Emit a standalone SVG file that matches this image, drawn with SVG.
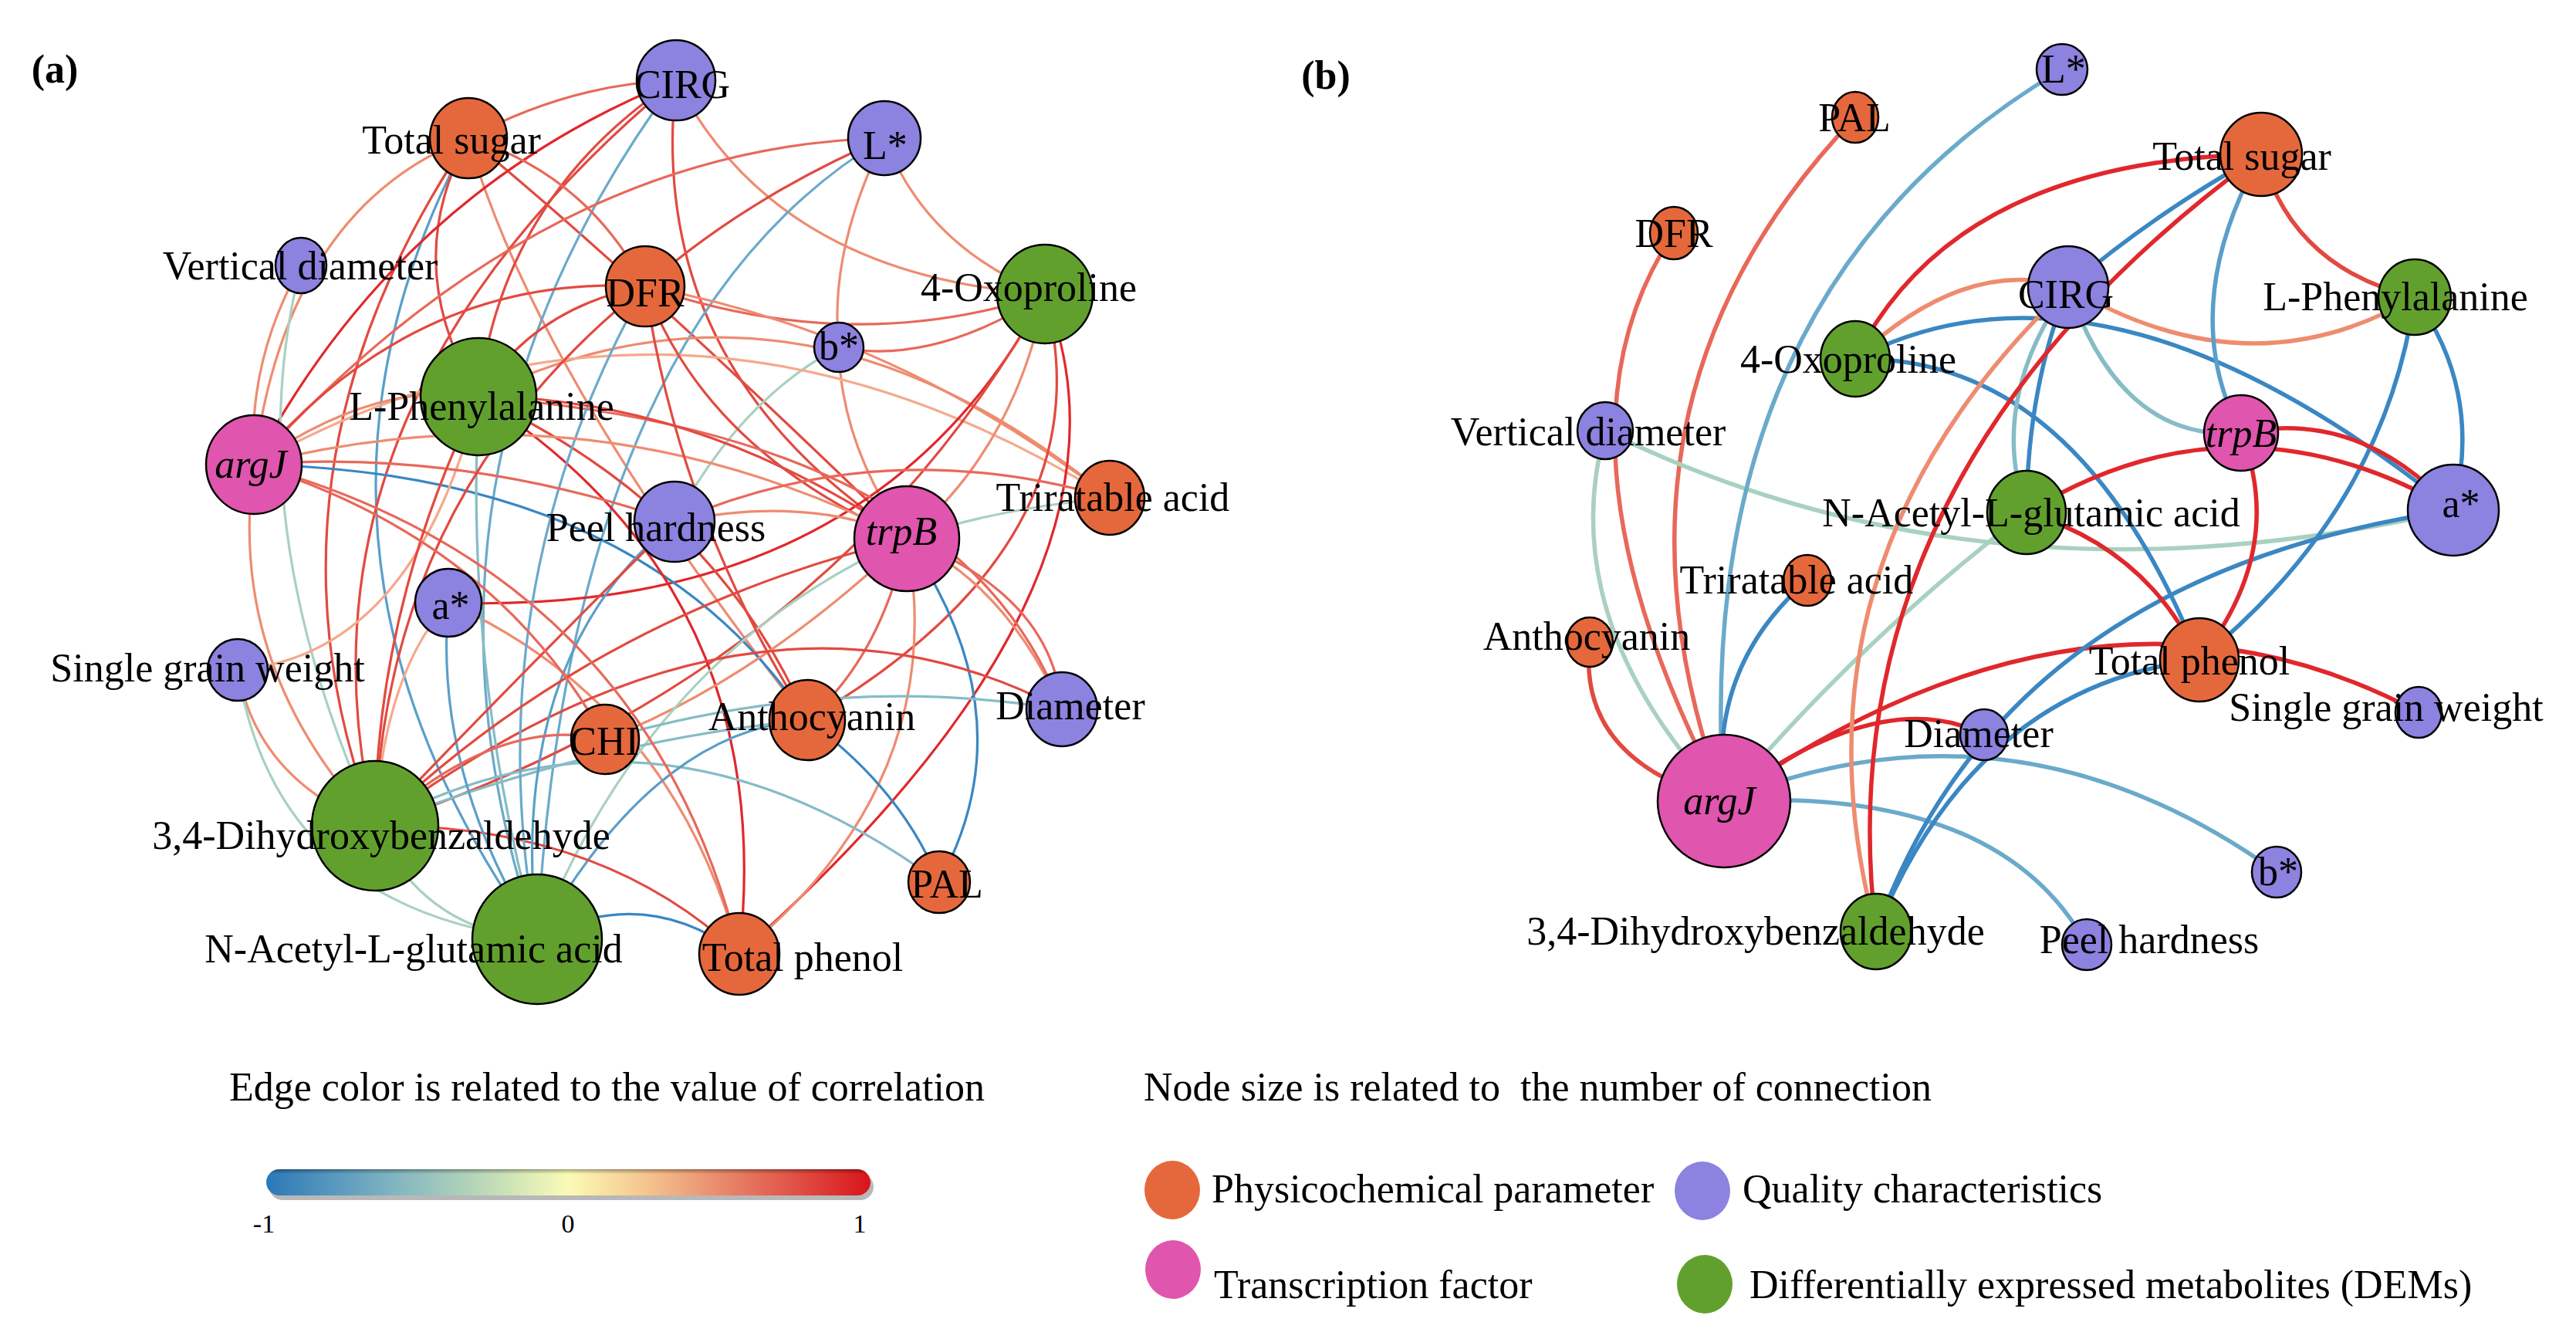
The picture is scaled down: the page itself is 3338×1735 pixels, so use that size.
<svg xmlns="http://www.w3.org/2000/svg" width="3338" height="1735" viewBox="0 0 3338 1735">
<style>
text{font-family:"Liberation Serif","Times New Roman",serif;font-size:52px;fill:#000}
.lab{text-anchor:middle}
.it{font-style:italic}
.bold{font-weight:bold}
.e path{fill:none;stroke-linecap:round}
.ea path{stroke-width:3.2}
.eb path{stroke-width:5.5}
.r1{stroke:#e0282c}.r2{stroke:#e24a40}.r3{stroke:#e8685a}
.s1{stroke:#ee8c70}.s2{stroke:#f4aa8c}
.g1{stroke:#a9d1c0}.t1{stroke:#86bcc6}.t2{stroke:#6aaacb}
.b1{stroke:#3a87c3}.b2{stroke:#5a9fc9}
.n{stroke:#000;stroke-width:2.5}
.o{fill:#e5683c}.p{fill:#8c82df}.k{fill:#e055ae}.g{fill:#62a02e}
.tick{font-size:34px;text-anchor:middle}
</style>
<defs>
<linearGradient id="cb" x1="0" y1="0" x2="1" y2="0">
<stop offset="0" stop-color="#2b78b8"/>
<stop offset="0.2" stop-color="#7cb2c2"/>
<stop offset="0.36" stop-color="#bcd9b8"/>
<stop offset="0.5" stop-color="#fbfbb6"/>
<stop offset="0.63" stop-color="#f5c48e"/>
<stop offset="0.76" stop-color="#e8866a"/>
<stop offset="0.89" stop-color="#df4a40"/>
<stop offset="1" stop-color="#d8141a"/>
</linearGradient>
<linearGradient id="cbv" x1="0" y1="0" x2="0" y2="1">
<stop offset="0" stop-color="#000" stop-opacity="0.35"/>
<stop offset="0.18" stop-color="#000" stop-opacity="0"/>
<stop offset="1" stop-color="#000" stop-opacity="0"/>
</linearGradient>
</defs>
<rect width="3338" height="1735" fill="#fff"/>

<g id="edges-a" class="e ea">
<path class="s1" d="M607 179 Q372 269.5 329 602"/>
<path class="r2" d="M607 179 Q313.5 615.5 486 1070"/>
<path class="b2" d="M607 179 Q328.5 702 696 1217"/>
<path class="r2" d="M607 179 Q516.5 343.5 620 514"/>
<path class="s1" d="M607 179 Q693.5 484 1046 933"/>
<path class="r2" d="M607 179 Q829 361.5 1175 698"/>
<path class="r3" d="M607 179 Q738.5 108.5 876 104"/>
<path class="r1" d="M876 104 Q517.5 247 329 602"/>
<path class="r2" d="M876 104 Q359 533 486 1070"/>
<path class="r2" d="M876 104 Q652 251 620 514"/>
<path class="t2" d="M876 104 Q494 619.5 696 1217"/>
<path class="r2" d="M876 104 Q834.5 479 1175 698"/>
<path class="s1" d="M876 104 Q1005 357.5 1354 381"/>
<path class="r3" d="M1146 179 Q702.5 189.5 329 602"/>
<path class="r2" d="M1146 179 Q969 255 836 371"/>
<path class="t2" d="M1146 179 Q739 422 696 1217"/>
<path class="s1" d="M1146 179 Q1073.5 325.5 1087 450"/>
<path class="s1" d="M1146 179 Q1200 320 1354 381"/>
<path class="r3" d="M836 371 Q1105 464 1354 381"/>
<path class="s1" d="M836 371 Q1163 432 1438 645"/>
<path class="r3" d="M1087 450 Q1209.5 474.5 1354 381"/>
<path class="g1" d="M1087 450 Q959.5 517 874 676"/>
<path class="s1" d="M1087 450 Q1089 576 1175 698"/>
<path class="s1" d="M620 514 Q1031 310.5 1438 645"/>
<path class="s2" d="M329 602 Q876.5 296.5 1438 645"/>
<path class="r2" d="M836 371 Q914.5 585.5 1175 698"/>
<path class="r1" d="M1354 381 Q1132.5 799 581 781"/>
<path class="r2" d="M1354 381 Q1080 874.5 486 1070"/>
<path class="s1" d="M1354 381 Q1315.5 580.5 1175 698"/>
<path class="r2" d="M1354 381 Q1440 703 1046 933"/>
<path class="r1" d="M1354 381 Q1504 751.5 958 1236"/>
<path class="b1" d="M329 602 Q832.5 612.5 1046 933"/>
<path class="r2" d="M620 514 Q927 656.5 1046 933"/>
<path class="r1" d="M620 514 Q1011 765 958 1236"/>
<path class="s1" d="M581 781 Q870.5 911.5 958 1236"/>
<path class="s1" d="M1175 698 Q980.5 882 784 958"/>
<path class="g1" d="M1175 698 Q844.5 842.5 696 1217"/>
<path class="r3" d="M1175 698 Q1139.5 854.5 1046 933"/>
<path class="s1" d="M1175 698 Q1233.5 1013 958 1236"/>
<path class="b1" d="M1175 698 Q1334 929.5 1217 1143"/>
<path class="r3" d="M1175 698 Q1364.5 771.5 1376 919"/>
<path class="s1" d="M874 676 Q1235 602.5 1376 919"/>
<path class="r3" d="M620 514 Q1242 563.5 1376 919"/>
<path class="r2" d="M486 1070 Q969 705.5 1376 919"/>
<path class="t1" d="M784 958 Q1080 871.5 1376 919"/>
<path class="t1" d="M486 1070 Q848.5 873.5 1217 1143"/>
<path class="b1" d="M1046 933 Q1168.5 1022 1217 1143"/>
<path class="b2" d="M696 1217 Q849 945 1046 933"/>
<path class="t1" d="M486 1070 Q774 958.5 1046 933"/>
<path class="r2" d="M486 1070 Q778 1067 958 1236"/>
<path class="b1" d="M696 1217 Q833 1143.5 958 1236"/>
<path class="s1" d="M329 602 Q292.5 864 486 1070"/>
<path class="g1" d="M390 344 Q306 673 486 1070"/>
<path class="s1" d="M390 344 Q320.5 467 329 602"/>
<path class="s1" d="M308 868 Q333 1011 486 1070"/>
<path class="g1" d="M308 868 Q358 1177.5 696 1217"/>
<path class="s2" d="M308 868 Q536 849 620 514"/>
<path class="b2" d="M581 781 Q561.5 1001 696 1217"/>
<path class="s2" d="M581 781 Q496.5 874.5 486 1070"/>
<path class="t1" d="M620 514 Q602 874.5 696 1217"/>
<path class="b2" d="M874 676 Q655 853.5 696 1217"/>
<path class="t2" d="M836 371 Q614 766 696 1217"/>
<path class="r2" d="M486 1070 Q720 827 874 676"/>
<path class="r2" d="M486 1070 Q769.5 796 1175 698"/>
<path class="r3" d="M486 1070 Q645 926 784 958"/>
<path class="g1" d="M486 1070 Q549 1206.5 696 1217"/>
<path class="s1" d="M329 602 Q485.5 492 620 514"/>
<path class="s1" d="M329 602 Q768 490 1175 698"/>
<path class="r2" d="M329 602 Q537.5 353.5 836 371"/>
<path class="r3" d="M329 602 Q836.5 741 958 1236"/>
<path class="r3" d="M329 602 Q598.5 581 874 676"/>
<path class="r2" d="M620 514 Q902.5 514 1175 698"/>
<path class="r2" d="M620 514 Q487 788 486 1070"/>
<path class="r2" d="M836 371 Q499 639.5 486 1070"/>
<path class="r3" d="M607 179 Q758.5 225 836 371"/>
<path class="r2" d="M836 371 Q692 397.5 620 514"/>
<path class="r2" d="M836 371 Q879 668 1046 933"/>
<path class="g1" d="M1175 698 Q1293.5 658.5 1438 645"/>
<path class="r3" d="M874 676 Q1144 559.5 1438 645"/>
<path class="r3" d="M329 602 Q643.5 700 784 958"/>
</g>

<g id="edges-b" class="e eb">
<path class="r3" d="M2404 152 Q2047 525 2234 1038"/>
<path class="r3" d="M2169 302 Q1988.5 570 2234 1038"/>
<path class="g1" d="M2080 558 Q2013 802 2234 1038"/>
<path class="g1" d="M2080 558 Q2570 800 3179 661"/>
<path class="t2" d="M2672 90 Q2187 376 2234 1038"/>
<path class="r2" d="M2060 832 Q2043 985 2234 1038"/>
<path class="b1" d="M2342 752 Q2212 865 2234 1038"/>
<path class="g1" d="M2234 1038 Q2410 829 2626 664"/>
<path class="r1" d="M2234 1038 Q2716 700 3134 923"/>
<path class="r1" d="M2234 1038 Q2437 885 2571 952"/>
<path class="t2" d="M2234 1038 Q2608 886 2950 1130"/>
<path class="t2" d="M2234 1038 Q2591 1019 2704 1224"/>
<path class="b1" d="M2431 1207 Q2595 746 3179 661"/>
<path class="b1" d="M2431 1207 Q2560 889 2850 855"/>
<path class="b1" d="M2850 855 Q3090 660 3129 385"/>
<path class="b1" d="M3129 385 Q3218 507 3179 661"/>
<path class="s1" d="M2680 372 Q2915 511 3129 385"/>
<path class="r1" d="M2404 465 Q2533 207 2930 200"/>
<path class="s1" d="M2404 465 Q2548 331 2680 372"/>
<path class="b1" d="M2404 465 Q2728 297 3179 661"/>
<path class="b1" d="M2404 465 Q2693 460 2850 855"/>
<path class="t1" d="M2680 372 Q2748 573 2904 561"/>
<path class="b1" d="M2680 372 Q2627 502 2626 664"/>
<path class="t1" d="M2680 372 Q2575 520 2626 664"/>
<path class="r1" d="M2904 561 Q3058 529 3179 661"/>
<path class="r1" d="M2626 664 Q2897 497 3179 661"/>
<path class="r1" d="M2904 561 Q2963 712 2850 855"/>
<path class="r1" d="M2626 664 Q2782 710 2850 855"/>
<path class="s1" d="M2680 372 Q2304 730 2431 1207"/>
<path class="r1" d="M2930 200 Q2359 616 2431 1207"/>
<path class="b1" d="M2930 200 Q2795 274 2680 372"/>
<path class="r2" d="M2930 200 Q2970 347 3129 385"/>
<path class="b2" d="M2930 200 Q2819 400 2904 561"/>
</g>

<text class="bold" x="71" y="107" text-anchor="middle">(a)</text>
<text class="bold" x="1718" y="115" text-anchor="middle">(b)</text>

<g id="a-cirg"><ellipse class="n p" cx="876" cy="104" rx="51" ry="52"/><text class="lab" x="884" y="127">CIRG</text></g>
<g id="a-total-sugar"><ellipse class="n o" cx="607" cy="179" rx="50" ry="52"/><text class="lab" x="585" y="199">Total sugar</text></g>
<g id="a-lstar"><ellipse class="n p" cx="1146" cy="179" rx="47" ry="48"/><text class="lab" x="1147" y="206">L*</text></g>
<g id="a-vertical-diameter"><ellipse class="n p" cx="390" cy="344" rx="33" ry="36"/><text class="lab" x="389" y="362">Vertical diameter</text></g>
<g id="a-dfr"><ellipse class="n o" cx="836" cy="371" rx="51" ry="52"/><text class="lab" x="836" y="397">DFR</text></g>
<g id="a-4-oxoproline"><ellipse class="n g" cx="1354" cy="381" rx="62" ry="64"/><text class="lab" x="1333" y="390">4-Oxoproline</text></g>
<g id="a-bstar"><ellipse class="n p" cx="1087" cy="450" rx="32" ry="32"/><text class="lab" x="1087" y="466">b*</text></g>
<g id="a-l-phenylalanine"><ellipse class="n g" cx="620" cy="514" rx="75" ry="76"/><text class="lab" x="624" y="544">L-Phenylalanine</text></g>
<g id="a-argj"><ellipse class="n k" cx="329" cy="602" rx="62" ry="64"/><text class="lab it" x="325" y="619">argJ</text></g>
<g id="a-peel-hardness"><ellipse class="n p" cx="874" cy="676" rx="52" ry="52"/><text class="lab" x="850" y="701">Peel hardness</text></g>
<g id="a-trpb"><ellipse class="n k" cx="1175" cy="698" rx="68" ry="68"/><text class="lab it" x="1168" y="706">trpB</text></g>
<g id="a-triratable-acid"><ellipse class="n o" cx="1438" cy="645" rx="45" ry="48"/><text class="lab" x="1442" y="662">Triratable acid</text></g>
<g id="a-astar"><ellipse class="n p" cx="581" cy="781" rx="43" ry="44"/><text class="lab" x="584" y="802">a*</text></g>
<g id="a-single-grain-weight"><ellipse class="n p" cx="308" cy="868" rx="39" ry="40"/><text class="lab" x="269" y="883">Single grain weight</text></g>
<g id="a-chi"><ellipse class="n o" cx="784" cy="958" rx="44" ry="45"/><text class="lab" x="783" y="978">CHI</text></g>
<g id="a-anthocyanin"><ellipse class="n o" cx="1046" cy="933" rx="49" ry="52"/><text class="lab" x="1052" y="946">Anthocyanin</text></g>
<g id="a-diameter"><ellipse class="n p" cx="1376" cy="919" rx="46" ry="48"/><text class="lab" x="1387" y="932">Diameter</text></g>
<g id="a-34-dihydroxybenzaldehyde"><ellipse class="n g" cx="486" cy="1070" rx="82" ry="84"/><text class="lab" x="494" y="1100">3,4-Dihydroxybenzaldehyde</text></g>
<g id="a-n-acetyl-l-glutamic-acid"><ellipse class="n g" cx="696" cy="1217" rx="84" ry="84"/><text class="lab" x="536" y="1247">N-Acetyl-L-glutamic acid</text></g>
<g id="a-pal"><ellipse class="n o" cx="1217" cy="1143" rx="40" ry="40"/><text class="lab" x="1227" y="1163">PAL</text></g>
<g id="a-total-phenol"><ellipse class="n o" cx="958" cy="1236" rx="52" ry="53"/><text class="lab" x="1040" y="1258">Total phenol</text></g>

<g id="b-lstar"><ellipse class="n p" cx="2672" cy="90" rx="33" ry="33"/><text class="lab" x="2674" y="107">L*</text></g>
<g id="b-pal"><ellipse class="n o" cx="2404" cy="152" rx="30" ry="33"/><text class="lab" x="2403" y="170">PAL</text></g>
<g id="b-total-sugar"><ellipse class="n o" cx="2930" cy="200" rx="53" ry="54"/><text class="lab" x="2905" y="220">Total sugar</text></g>
<g id="b-dfr"><ellipse class="n o" cx="2169" cy="302" rx="31" ry="34"/><text class="lab" x="2169" y="320">DFR</text></g>
<g id="b-cirg"><ellipse class="n p" cx="2680" cy="372" rx="52" ry="53"/><text class="lab" x="2677" y="399">CIRG</text></g>
<g id="b-l-phenylalanine"><ellipse class="n g" cx="3129" cy="385" rx="47" ry="49"/><text class="lab" x="3104" y="402">L-Phenylalanine</text></g>
<g id="b-4-oxoproline"><ellipse class="n g" cx="2404" cy="465" rx="45" ry="49"/><text class="lab" x="2395" y="483">4-Oxoproline</text></g>
<g id="b-vertical-diameter"><ellipse class="n p" cx="2080" cy="558" rx="36" ry="37"/><text class="lab" x="2058" y="577">Vertical diameter</text></g>
<g id="b-trpb"><ellipse class="n k" cx="2904" cy="561" rx="48" ry="49"/><text class="lab it" x="2904" y="579">trpB</text></g>
<g id="b-astar"><ellipse class="n p" cx="3179" cy="661" rx="59" ry="59"/><text class="lab" x="3189" y="670">a*</text></g>
<g id="b-n-acetyl-l-glutamic-acid"><ellipse class="n g" cx="2626" cy="664" rx="51" ry="54"/><text class="lab" x="2632" y="682">N-Acetyl-L-glutamic acid</text></g>
<g id="b-triratable-acid"><ellipse class="n o" cx="2342" cy="752" rx="31" ry="33"/><text class="lab" x="2328" y="769">Triratable acid</text></g>
<g id="b-anthocyanin"><ellipse class="n o" cx="2060" cy="832" rx="30" ry="32"/><text class="lab" x="2056" y="842">Anthocyanin</text></g>
<g id="b-total-phenol"><ellipse class="n o" cx="2850" cy="855" rx="51" ry="54"/><text class="lab" x="2837" y="874">Total phenol</text></g>
<g id="b-single-grain-weight"><ellipse class="n p" cx="3134" cy="923" rx="30" ry="33"/><text class="lab" x="3092" y="934">Single grain weight</text></g>
<g id="b-diameter"><ellipse class="n p" cx="2571" cy="952" rx="31" ry="33"/><text class="lab" x="2564" y="968">Diameter</text></g>
<g id="b-argj"><ellipse class="n k" cx="2234" cy="1038" rx="86" ry="86"/><text class="lab it" x="2228" y="1055">argJ</text></g>
<g id="b-bstar"><ellipse class="n p" cx="2950" cy="1130" rx="32" ry="33"/><text class="lab" x="2952" y="1147">b*</text></g>
<g id="b-34-dihydroxybenzaldehyde"><ellipse class="n g" cx="2431" cy="1207" rx="46" ry="49"/><text class="lab" x="2275" y="1224">3,4-Dihydroxybenzaldehyde</text></g>
<g id="b-peel-hardness"><ellipse class="n p" cx="2704" cy="1224" rx="32" ry="33"/><text class="lab" x="2785" y="1235">Peel hardness</text></g>

<g id="legend-colorbar">
<text x="297" y="1426">Edge color is related to the value of correlation</text>
<rect x="349" y="1521" width="783" height="34" rx="17" fill="#9a9a9a" opacity="0.7"/>
<rect x="345" y="1515" width="783" height="34" rx="17" fill="url(#cb)"/>
<rect x="345" y="1515" width="783" height="34" rx="17" fill="url(#cbv)"/>
<text class="tick" x="342" y="1597">-1</text>
<text class="tick" x="736" y="1597">0</text>
<text class="tick" x="1114" y="1597">1</text>
</g>
<g id="legend-nodes">
<text x="1482" y="1426" style="white-space:pre">Node size is related to  the number of connection</text>
<ellipse class="o" cx="1519" cy="1542" rx="36" ry="38"/>
<text x="1570" y="1558">Physicochemical parameter</text>
<ellipse class="p" cx="2206" cy="1543" rx="36" ry="38"/>
<text x="2258" y="1558">Quality characteristics</text>
<ellipse class="k" cx="1520" cy="1645" rx="36" ry="38"/>
<text x="1573" y="1682">Transcription factor</text>
<ellipse class="g" cx="2209" cy="1664" rx="36" ry="38"/>
<text x="2267" y="1682">Differentially expressed metabolites (DEMs)</text>
</g>
</svg>
